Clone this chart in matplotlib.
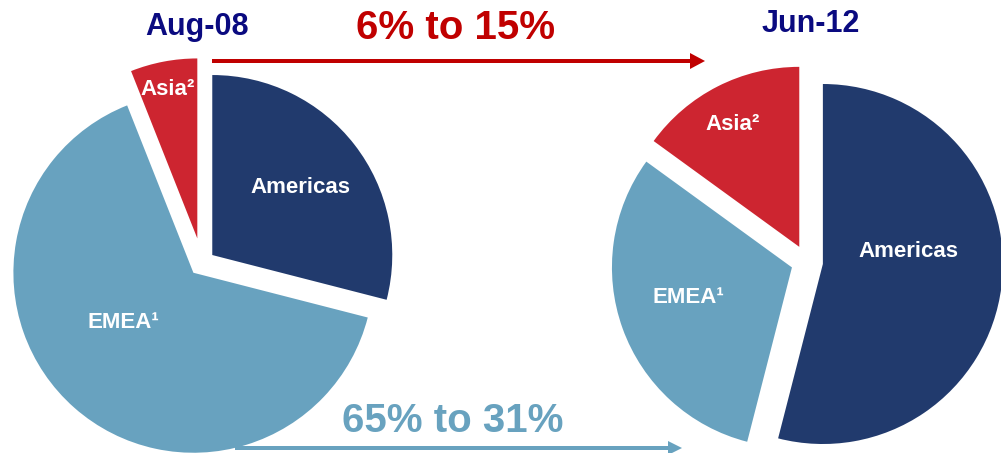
import matplotlib
matplotlib.use('Agg')
import matplotlib.pyplot as plt

## regional split of the business, two snapshots
regions     = ['Americas', 'EMEA¹', 'Asia²']
share_aug08 = [29, 65, 6]
share_jun12 = [54, 31, 15]
dates       = ['Aug-08', 'Jun-12']
asia_change = '6% to 15%'
emea_change = '65% to 31%'

colors = ['#213A6D', '#68A2BF', '#CD2530']

plt.rcParams['font.family'] = ['Liberation Sans', 'DejaVu Sans']

## one axes in pixel units over the whole figure
fig = plt.figure(figsize=(10.01, 4.53), dpi=100)
ax = fig.add_axes([0, 0, 1, 1])

ax.pie(share_aug08, colors=colors, startangle=90, counterclock=False,
       center=(202, 190), radius=180, explode=[13, 13, 25],
       wedgeprops=dict(linewidth=0))
ax.pie(share_jun12, colors=colors, startangle=90, counterclock=False,
       center=(807, 191), radius=180, explode=[16, 16, 17],
       wedgeprops=dict(linewidth=0))

ax.set_xlim(0, 1001)
ax.set_ylim(0, 453)
ax.set_aspect('equal')
ax.axis('off')

## slice labels
lab = dict(color='white', fontsize=16, fontweight='bold', ha='center', va='baseline')
left_pos  = [(300, 260), (123, 125), (168, 358)]
right_pos = [(908, 196), (688, 150), (733, 323)]
for name, (x, y) in zip(regions, left_pos):
    ax.text(x, y, name, **lab)
for name, (x, y) in zip(regions, right_pos):
    ax.text(x, y, name, **lab)

## dates
ax.text(197, 418, dates[0], color='#0A0A80', fontsize=22, fontweight='bold',
        ha='center', va='baseline')
ax.text(811, 421, dates[1], color='#0A0A80', fontsize=22, fontweight='bold',
        ha='center', va='baseline')

## change arrows
ax.arrow(212, 392, 493, 0, width=4, head_width=16, head_length=15,
         length_includes_head=True, color='#C00000', linewidth=0)
ax.text(456, 414, asia_change, color='#C00000', fontsize=29, fontweight='bold',
        ha='center', va='baseline')

ax.arrow(235, 5, 447, 0, width=4, head_width=14, head_length=14,
         length_includes_head=True, color=colors[1], linewidth=0)
ax.text(453, 21, emea_change, color=colors[1], fontsize=29, fontweight='bold',
        ha='center', va='baseline')

fig.savefig('out.png', dpi=100)
